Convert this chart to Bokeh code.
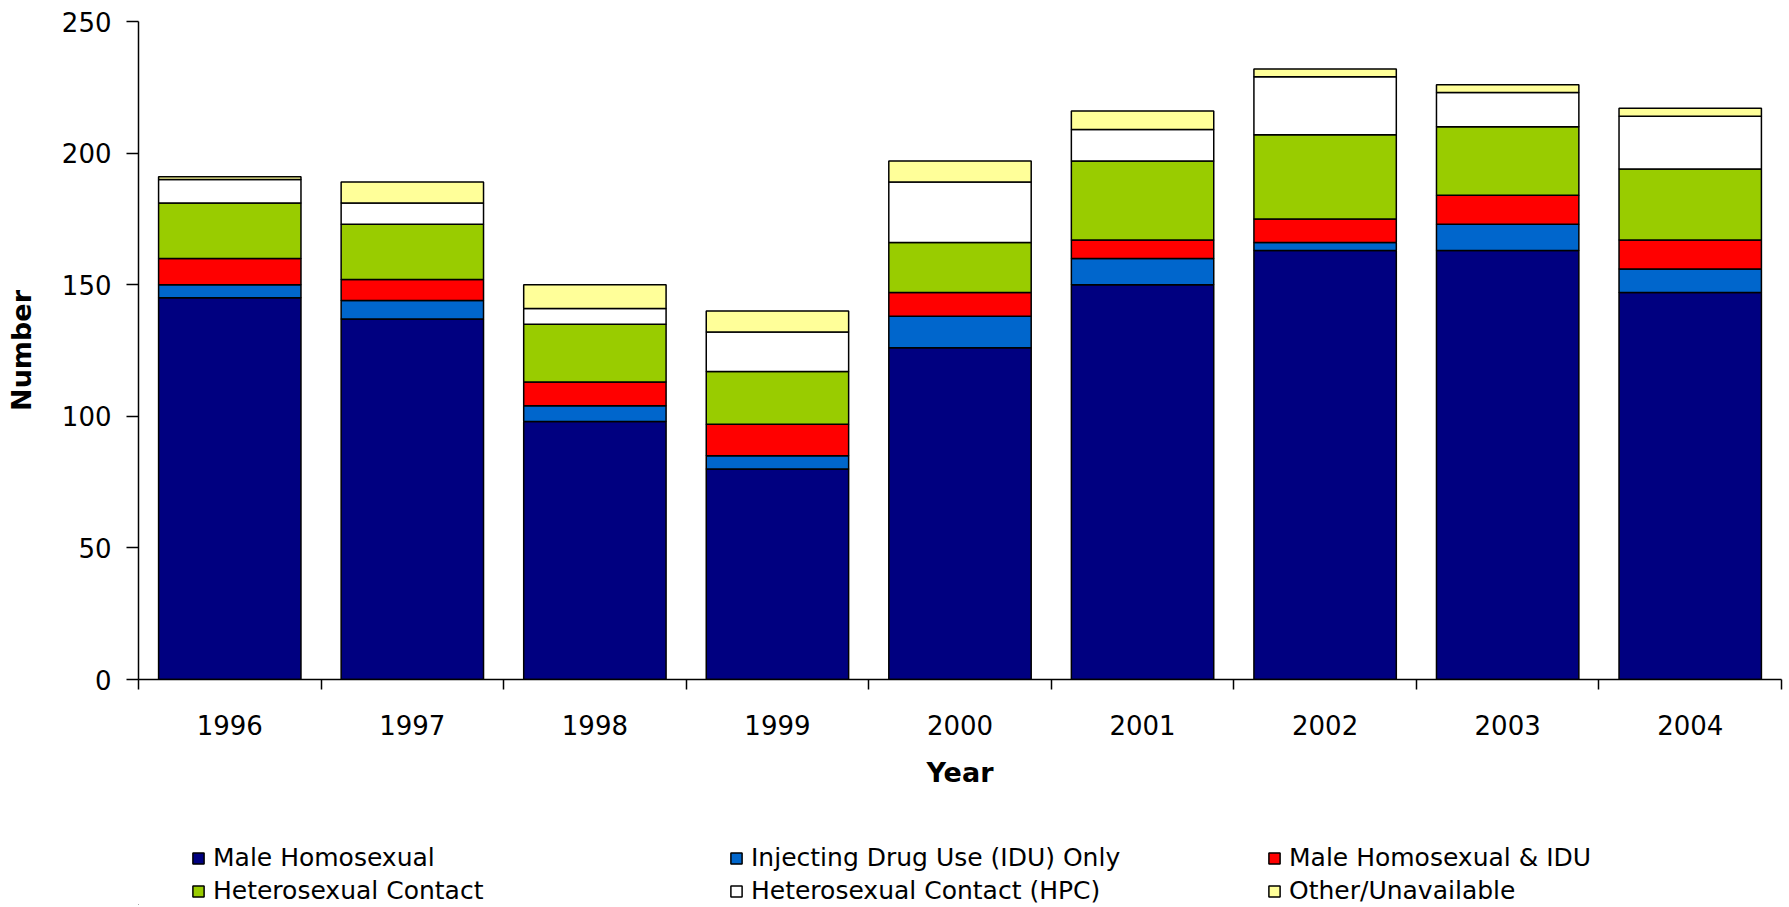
from bokeh.plotting import figure
from bokeh.models import Range1d, FixedTicker, Legend, LegendItem, ColumnDataSource
from bokeh.layouts import column
from bokeh.embed import file_html
from bokeh.resources import INLINE

# ---- data ----
years = ["1996", "1997", "1998", "1999", "2000", "2001", "2002", "2003", "2004"]
male_homosexual = [145, 137, 98, 80, 126, 150, 163, 163, 147]
idu_only = [5, 7, 6, 5, 12, 10, 3, 10, 9]
male_homo_idu = [10, 8, 9, 12, 9, 7, 9, 11, 11]
hetero_contact = [21, 21, 22, 20, 19, 30, 32, 26, 27]
hetero_hpc = [9, 8, 6, 15, 23, 12, 22, 13, 20]
other_unavailable = [1, 8, 9, 8, 8, 7, 3, 3, 3]
series_labels = ["Male Homosexual", "Injecting Drug Use (IDU) Only", "Male Homosexual & IDU",
                 "Heterosexual Contact", "Heterosexual Contact (HPC)", "Other/Unavailable"]
y_ticks = [0, 50, 100, 150, 200, 250]

keys = ["mh", "idu", "mhidu", "het", "hpc", "oth"]
colors = ["#000080", "#0066CC", "#FF0000", "#99CC00", "#FFFFFF", "#FFFF99"]

x_centers = [i + 0.5 for i in range(len(years))]
source = ColumnDataSource(dict(x=x_centers, mh=male_homosexual, idu=idu_only, mhidu=male_homo_idu,
                               het=hetero_contact, hpc=hetero_hpc, oth=other_unavailable))

FONT = "DejaVu Sans"
W = 1785

p = figure(width=W, height=816, x_range=Range1d(0, len(years)), y_range=Range1d(0, 250),
           output_backend="svg", toolbar_location=None,
           min_border_left=138, min_border_right=4, min_border_top=21, min_border_bottom=137)
p.outline_line_color = None
p.xgrid.visible = False
p.ygrid.visible = False
p.background_fill_color = "white"
p.border_fill_color = "white"

renderers = p.vbar_stack(keys, x="x", width=0.78, source=source, color=colors,
                         line_color="black", line_width=1.5)

# x axis: labels at centers, tick marks at category boundaries
xa = p.xaxis[0]
xa.ticker = FixedTicker(ticks=x_centers, minor_ticks=list(range(len(years) + 1)))
xa.major_label_overrides = {xc: y for xc, y in zip(x_centers, years)}
xa.major_tick_line_color = None
xa.minor_tick_in = 0
xa.minor_tick_out = 10
xa.minor_tick_line_color = "black"
xa.minor_tick_line_width = 1.5
xa.axis_line_color = "black"
xa.axis_line_width = 1.5
xa.major_label_text_font = FONT
xa.major_label_text_font_size = "26px"
xa.major_label_text_color = "black"
xa.major_label_standoff = 25
xa.axis_label = "Year"
xa.axis_label_text_font = FONT
xa.axis_label_text_font_size = "27px"
xa.axis_label_text_font_style = "bold"
xa.axis_label_text_color = "black"
xa.axis_label_standoff = 19

ya = p.yaxis[0]
ya.ticker = FixedTicker(ticks=y_ticks)
ya.minor_tick_line_color = None
ya.major_tick_in = 0
ya.major_tick_out = 12
ya.major_tick_line_color = "black"
ya.major_tick_line_width = 1.5
ya.axis_line_color = "black"
ya.axis_line_width = 1.5
ya.major_label_text_font = FONT
ya.major_label_text_font_size = "26px"
ya.major_label_text_color = "black"
ya.major_label_standoff = 15
ya.axis_label = "Number"
ya.axis_label_text_font = FONT
ya.axis_label_text_font_size = "27px"
ya.axis_label_text_font_style = "bold"
ya.axis_label_text_color = "black"
ya.axis_label_standoff = 22

# ---- legend strip below the chart (swatch placeholders sit outside the visible range) ----
lg = figure(width=W, height=89, x_range=Range1d(0, 1), y_range=Range1d(0, 1),
            output_backend="svg", toolbar_location=None, min_border=0,
            x_axis_type=None, y_axis_type=None)
lg.outline_line_color = None
lg.background_fill_color = "white"
lg.border_fill_color = "white"
legend_renderers = [lg.vbar(x=[-5], top=[0], bottom=[0], width=0.1, fill_color=c,
                            line_color="black", line_width=1.5)
                    for c in colors]
legend = Legend(items=[LegendItem(label=lab, renderers=[r]) for lab, r in zip(series_labels, legend_renderers)],
                orientation="horizontal", ncols=3, location=(53, 0),
                glyph_width=14, glyph_height=14, label_standoff=8, label_width=512,
                label_height=26, spacing=4, padding=0, margin=0,
                border_line_color=None, background_fill_alpha=0,
                label_text_font=FONT, label_text_font_size="25px", label_text_color="black")
lg.add_layout(legend)

layout = column(p, lg, spacing=0)
open("out.html", "w").write(file_html(layout, INLINE))
